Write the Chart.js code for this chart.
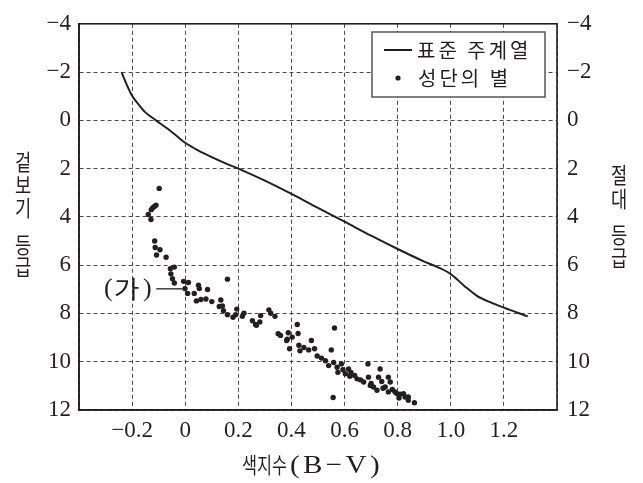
<!DOCTYPE html>
<html>
<head>
<meta charset="utf-8">
<script src="https://cdn.jsdelivr.net/npm/chart.js@4/dist/chart.umd.min.js"></script>
<style>
  html, body { margin: 0; padding: 0; background: #fff; }
  #wrap { width: 643px; height: 483px; position: relative; }
</style>
</head>
<body>
<div id="wrap"><canvas id="hr"></canvas></div>
<script>
// standard main sequence (color index B-V vs absolute magnitude)
const msX = [-0.24, -0.22, -0.2, -0.175, -0.15, -0.11, -0.07, -0.035, 0, 0.05, 0.1, 0.15, 0.2, 0.3, 0.4, 0.5, 0.6, 0.7, 0.8, 0.9, 0.95, 1.0, 1.05, 1.1, 1.15, 1.2, 1.29];
const msY = [-2.0, -1.47, -1.02, -0.65, -0.33, 0.0, 0.32, 0.62, 0.93, 1.25, 1.52, 1.77, 2.0, 2.5, 3.05, 3.63, 4.2, 4.78, 5.33, 5.85, 6.08, 6.37, 6.85, 7.28, 7.54, 7.76, 8.12];

// cluster stars (apparent magnitude)
const clX = [-0.098, -0.11, -0.116, -0.123, -0.128, -0.139, -0.129, -0.115, -0.113, -0.095, -0.108, -0.072,
  -0.041, -0.056, -0.054, -0.048, -0.041, -0.006, 0.012, -0.001, 0.009, 0.034, 0.05, 0.053, 0.084,
  0.042, 0.059, 0.078, 0.1, 0.159, 0.134, 0.128, 0.14, 0.144, 0.159, 0.18, 0.194, 0.19, 0.215, 0.221,
  0.253, 0.265, 0.281, 0.284, 0.315, 0.322, 0.338, 0.35, 0.359, 0.384, 0.268, 0.382, 0.388, 0.403,
  0.422, 0.425, 0.393, 0.428, 0.432, 0.447, 0.475, 0.465, 0.487, 0.497, 0.513, 0.528, 0.54, 0.55,
  0.562, 0.559, 0.572, 0.575, 0.588, 0.594, 0.603, 0.615, 0.624, 0.638, 0.647, 0.672, 0.688, 0.69,
  0.697, 0.709, 0.722, 0.734, 0.728, 0.74, 0.753, 0.765, 0.772, 0.765, 0.79, 0.809, 0.822, 0.84,
  0.557, 0.863, 0.84, 0.828, 0.797, 0.62, 0.66, 0.7, 0.745, 0.78, 0.805];
const clY = [2.82, 3.52, 3.57, 3.63, 3.7, 3.9, 4.11, 5.0, 5.27, 5.36, 5.58, 5.67,
  6.08, 6.15, 6.36, 6.56, 6.74, 6.67, 6.72, 6.97, 7.17, 7.17, 6.83, 6.97, 7.01,
  7.48, 7.42, 7.4, 7.51, 6.58, 7.44, 7.71, 7.69, 7.89, 8.05, 8.16, 7.82, 8.05, 8.12, 7.99,
  8.3, 8.46, 8.35, 8.09, 7.85, 7.99, 8.12, 8.84, 8.91, 9.07, 8.49, 9.12, 8.8, 8.98,
  8.46, 8.83, 9.46, 9.32, 9.55, 9.41, 9.12, 9.51, 9.46, 9.76, 9.85, 9.96, 10.16, 9.51,
  8.6, 10.03, 10.23, 10.44, 10.09, 10.33, 10.5, 10.3, 10.44, 10.57, 10.71, 10.84, 10.09, 10.64,
  10.98, 11.05, 11.18, 10.3, 10.64, 10.82, 11.05, 10.64, 10.84, 11.25, 11.25, 11.35, 11.32, 11.46,
  11.48, 11.7, 11.6, 11.46, 11.32, 10.6, 10.75, 10.9, 11.1, 11.15, 11.5];

const xTickValues = [-0.4, -0.2, 0, 0.2, 0.4, 0.6, 0.8, 1.0, 1.2, 1.4];
const xTickShown = [-0.2, 0, 0.2, 0.4, 0.6, 0.8, 1.0, 1.2];
const yTickValues = [-4, -2, 0, 2, 4, 6, 8, 10, 12];

const ink = '#231f20';
const serif = "'Liberation Serif', 'Times New Roman', Tinos, 'DejaVu Serif', serif";
const kr = "'Noto Sans CJK KR', 'Noto Sans', sans-serif";

function fmtX(v) {
  const r = Math.round(v * 10) / 10;
  if (!xTickShown.some(t => Math.abs(t - r) < 1e-6)) return '';
  if (r === 0) return '0';
  return (r < 0 ? '\u2212' : '') + Math.abs(r).toFixed(1);
}
function fmtY(v) {
  return (v < 0 ? '\u2212' : '') + Math.abs(v);
}

// draws horizontally condensed text
function squeezed(ctx, txt, x, y, font, sx, align, spacing) {
  ctx.save();
  ctx.translate(x, y);
  ctx.scale(sx, 1);
  ctx.font = font;
  ctx.letterSpacing = spacing || '0px';
  ctx.textAlign = align || 'left';
  ctx.textBaseline = 'middle';
  ctx.fillText(txt, 0, 0);
  ctx.restore();
}

const extras = {
  id: 'extras',
  beforeDraw(chart) {
    const ctx = chart.ctx;
    ctx.save();
    ctx.fillStyle = '#fff';
    ctx.fillRect(0, 0, chart.width, chart.height);
    ctx.restore();
  },
  afterDraw(chart) {
    const ctx = chart.ctx;
    const a = chart.chartArea;
    const xs = chart.scales.x, ys = chart.scales.y;
    ctx.save();
    // frame
    ctx.strokeStyle = ink;
    ctx.lineWidth = 1.6;
    ctx.strokeRect(a.left, a.top, a.right - a.left, a.bottom - a.top);

    ctx.fillStyle = ink;
    // x axis title
    const cx = (a.left + a.right) / 2;
    squeezed(ctx, '색지수', cx - 76, 465, '22px ' + kr, 0.74);
    squeezed(ctx, '(B\u2212V)', cx - 28, 466, '26px ' + serif, 1.12, 'left', '3px');

    // y titles, stacked characters
    const leftChars = [['겉', 162], ['보', 185], ['기', 208], ['등', 245], ['급', 267]];
    leftChars.forEach(c => squeezed(ctx, c[0], 23, c[1], '22px ' + kr, 0.8, 'center'));
    const rightChars = [['절', 175], ['대', 199], ['등', 235], ['급', 258]];
    rightChars.forEach(c => squeezed(ctx, c[0], 619, c[1], '22px ' + kr, 0.8, 'center'));

    // (가) pointer
    const py = ys.getPixelForValue(6.98);
    const pxEnd = xs.getPixelForValue(-0.011);
    const pxStart = xs.getPixelForValue(-0.109);
    ctx.lineWidth = 1.3;
    ctx.beginPath();
    ctx.moveTo(pxStart, py);
    ctx.lineTo(pxEnd, py);
    ctx.stroke();
    squeezed(ctx, '(', 104, py, '26px ' + serif, 1);
    squeezed(ctx, '가', 114, py, '24px ' + kr, 1.15);
    squeezed(ctx, ')', 143, py, '26px ' + serif, 1);

    // legend
    const bx = 372, by = 32, bw = 173, bh = 65;
    ctx.fillStyle = '#fff';
    ctx.fillRect(bx, by, bw, bh);
    ctx.strokeStyle = '#555';
    ctx.lineWidth = 1.5;
    ctx.strokeRect(bx, by, bw, bh);
    ctx.strokeStyle = ink;
    ctx.lineWidth = 2;
    ctx.beginPath();
    ctx.moveTo(384, 50);
    ctx.lineTo(412, 50);
    ctx.stroke();
    ctx.fillStyle = ink;
    ctx.beginPath();
    ctx.arc(398, 78, 2.6, 0, Math.PI * 2);
    ctx.fill();
    squeezed(ctx, '표준 주계열', 417, 50, '20px ' + kr, 1, 'left', '3px');
    squeezed(ctx, '성단의 별', 418, 78, '20px ' + kr, 1, 'left', '3px');
    ctx.restore();
  }
};

const gridStyle = {
  color: '#4a4a4a',
  lineWidth: 1,
  drawTicks: false
};

new Chart(document.getElementById('hr'), {
  type: 'scatter',
  data: {
    datasets: [
      {
        label: '표준 주계열',
        data: msX.map((x, i) => ({ x: x, y: msY[i] })),
        showLine: true,
        cubicInterpolationMode: 'monotone',
        pointRadius: 0,
        borderColor: ink,
        borderWidth: 2,
        fill: false
      },
      {
        label: '성단의 별',
        data: clX.map((x, i) => ({ x: x, y: clY[i] })),
        pointRadius: 2.7,
        pointBorderWidth: 0,
        backgroundColor: ink,
        borderColor: ink
      }
    ]
  },
  options: {
    responsive: true,
    maintainAspectRatio: false,
    animation: false,
    layout: { padding: { top: 18, left: 0, right: 0, bottom: 0 } },
    plugins: {
      legend: { display: false },
      tooltip: { enabled: false },
      title: { display: false }
    },
    scales: {
      x: {
        type: 'linear',
        min: -0.4,
        max: 1.4,
        afterBuildTicks: s => { s.ticks = xTickValues.map(v => ({ value: v })); },
        afterFit: s => { s.height = 73; },
        grid: gridStyle,
        border: { display: true, color: ink, width: 1.6, dash: [4, 3] },
        ticks: {
          autoSkip: false,
          maxRotation: 0,
          padding: 7,
          color: ink,
          font: { family: serif, size: 23 },
          callback: v => fmtX(v)
        }
      },
      y: {
        type: 'linear',
        position: 'left',
        reverse: true,
        min: -4,
        max: 12,
        afterBuildTicks: s => { s.ticks = yTickValues.map(v => ({ value: v })); },
        afterFit: s => { s.width = 79; },
        grid: gridStyle,
        border: { display: true, color: ink, width: 1.6, dash: [4, 3] },
        ticks: {
          padding: 8,
          color: ink,
          font: { family: serif, size: 23 },
          callback: v => fmtY(v)
        }
      },
      y2: {
        type: 'linear',
        position: 'right',
        reverse: true,
        min: -4,
        max: 12,
        afterBuildTicks: s => { s.ticks = yTickValues.map(v => ({ value: v })); },
        afterFit: s => { s.width = 86; },
        grid: { display: false, drawTicks: false },
        border: { display: false },
        ticks: {
          padding: 10,
          color: ink,
          font: { family: serif, size: 23 },
          callback: v => fmtY(v)
        }
      }
    }
  },
  plugins: [extras]
});
</script>
</body>
</html>
